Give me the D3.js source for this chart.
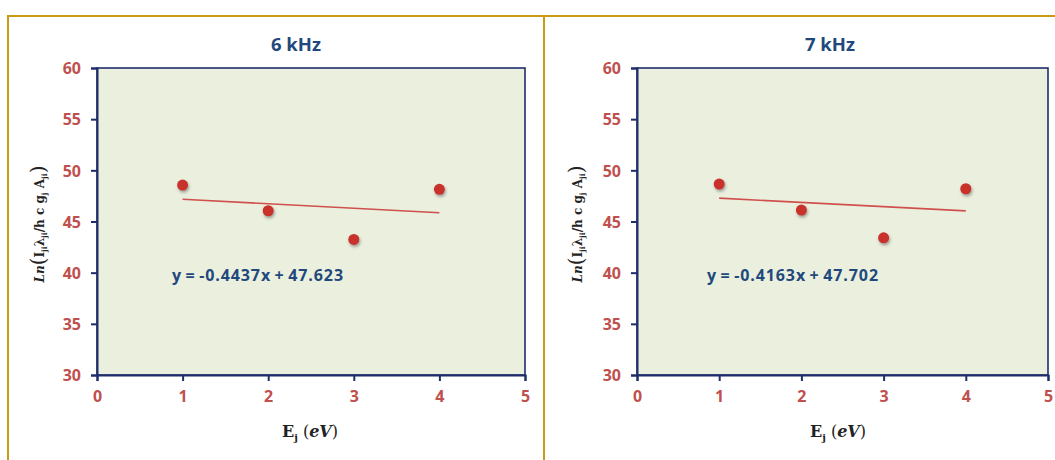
<!DOCTYPE html>
<html>
<head>
<meta charset="utf-8">
<script src="https://cdn.jsdelivr.net/npm/d3@7/dist/d3.min.js"></script>
<style>
  html, body { margin: 0; padding: 0; background: #ffffff; }
  svg { display: block; }
</style>
</head>
<body>
<svg id="chart" width="1055" height="460"></svg>
<script>
// ---- data ----
const xTickValues = [0, 1, 2, 3, 4, 5];
const yTickValues = [30, 35, 40, 45, 50, 55, 60];
const energies = [1, 2, 3, 4];
const lnValues6k = [48.56, 46.05, 43.25, 48.14];
const lnValues7k = [48.66, 46.12, 43.41, 48.20];
const titles = ["6 kHz", "7 kHz"];
const slopes = [-0.4437, -0.4163];
const intercepts = [47.623, 47.702];
const equations = ["y = -0.4437x + 47.623", "y = -0.4163x + 47.702"];

const svg = d3.select("#chart");

// drop shadow filter for markers
const defs = svg.append("defs");
const f = defs.append("filter").attr("id", "shadow").attr("x", "-50%").attr("y", "-50%").attr("width", "200%").attr("height", "200%");
f.append("feDropShadow").attr("dx", 1).attr("dy", 2).attr("stdDeviation", 1.5).attr("flood-color", "#555").attr("flood-opacity", 0.55);

// gold frame
const gold = "#c89b14";
svg.append("line").attr("x1", 8).attr("x2", 1055).attr("y1", 16).attr("y2", 16).attr("stroke", gold).attr("stroke-width", 2);
svg.append("line").attr("x1", 8).attr("x2", 8).attr("y1", 15).attr("y2", 460).attr("stroke", gold).attr("stroke-width", 2);
svg.append("line").attr("x1", 544).attr("x2", 544).attr("y1", 15).attr("y2", 460).attr("stroke", gold).attr("stroke-width", 2);

const panels = [
  { x0: 97, x1: 525, values: lnValues6k, titleX: 296, eqX: 172, yLabX: 40, xLabX: 310 },
  { x0: 637, x1: 1048, values: lnValues7k, titleX: 830, eqX: 707, yLabX: 578, xLabX: 838 }
];
const yTop = 68, yBot = 375;
const navy = "#1f2d6b";
const red = "#c0504d";
const blue = "#1f497d";

panels.forEach((p, i) => {
  const x = d3.scaleLinear().domain([0, 5]).range([p.x0, p.x1]);
  const y = d3.scaleLinear().domain([30, 60]).range([yBot, yTop]);
  const g = svg.append("g");

  // plot background
  g.append("rect").attr("x", x(0)).attr("y", y(60)).attr("width", x(5) - x(0)).attr("height", y(30) - y(60))
    .attr("fill", "#ebf0de").attr("stroke", navy).attr("stroke-width", 1.6);

  // axes
  const yAxis = d3.axisLeft(y).tickValues(yTickValues).tickFormat(d3.format("d")).tickSize(6).tickPadding(10);
  const yg = g.append("g").attr("transform", `translate(${x(0)},0)`).call(yAxis);
  const xAxis = d3.axisBottom(x).tickValues(xTickValues).tickFormat(d3.format("d")).tickSize(6).tickPadding(10);
  const xg = g.append("g").attr("transform", `translate(0,${y(30)})`).call(xAxis);
  [yg, xg].forEach(ax => {
    ax.select(".domain").attr("stroke", navy).attr("stroke-width", 2);
    ax.selectAll(".tick line").attr("stroke", navy).attr("stroke-width", 2);
    ax.selectAll(".tick text").attr("fill", red).attr("font-family", "'Open Sans', sans-serif")
      .attr("font-weight", "bold").attr("font-size", 16);
  });
  yg.selectAll(".tick text").attr("dy", "0.36em");

  // title
  g.append("text").attr("x", p.titleX).attr("y", 51).attr("text-anchor", "middle")
    .attr("fill", blue).attr("font-family", "'Open Sans', sans-serif").attr("font-weight", "bold")
    .attr("font-size", 18.5).text(titles[i]);

  // trendline
  g.append("line")
    .attr("x1", x(energies[0])).attr("y1", y(slopes[i] * energies[0] + intercepts[i]))
    .attr("x2", x(energies[energies.length - 1])).attr("y2", y(slopes[i] * energies[energies.length - 1] + intercepts[i]))
    .attr("stroke", "#d0504d").attr("stroke-width", 1.6);

  // points
  g.selectAll("circle.pt").data(energies.map((e, k) => [e, p.values[k]])).enter().append("circle")
    .attr("class", "pt").attr("cx", d => x(d[0])).attr("cy", d => y(d[1])).attr("r", 5.5)
    .attr("fill", "#c8302c").attr("filter", "url(#shadow)");

  // equation
  g.append("text").attr("x", p.eqX).attr("y", 281).attr("fill", blue)
    .attr("font-family", "'Open Sans', sans-serif").attr("font-weight", "bold").attr("font-size", 16)
    .attr("letter-spacing", 0.9).attr("word-spacing", -1.5)
    .text(equations[i]);

  // x axis label: E_j (eV)
  const xl = g.append("text").attr("x", p.xLabX).attr("y", 437).attr("text-anchor", "middle")
    .attr("fill", "#222").attr("font-family", "'DejaVu Serif', serif").attr("font-size", 16);
  xl.append("tspan").attr("font-weight", "bold").text("E");
  xl.append("tspan").attr("font-size", 10).attr("dy", 4).attr("font-weight", "bold").text("j");
  xl.append("tspan").attr("dy", -4).text(" (");
  xl.append("tspan").attr("font-style", "italic").attr("font-weight", "bold").text("eV");
  xl.append("tspan").text(")");

  // y axis label: Ln(I_ji λ_ji /h c g_j A_ji)
  const yl = g.append("text").attr("transform", `translate(${p.yLabX},224) rotate(-90)`)
    .attr("text-anchor", "middle").attr("fill", "#222").attr("font-family", "'DejaVu Serif', serif")
    .attr("font-weight", "bold").attr("font-size", 12).attr("dy", "0.35em");
  yl.append("tspan").attr("font-style", "italic").text("Ln");
  yl.append("tspan").attr("font-size", 20).attr("font-weight", "normal").attr("dy", 1).text("(");
  yl.append("tspan").attr("dy", -1).text("I");
  yl.append("tspan").attr("font-size", 7.5).attr("dy", 3).text("ji");
  yl.append("tspan").attr("dy", -3).text("λ");
  yl.append("tspan").attr("font-size", 7.5).attr("dy", 3).text("ji");
  yl.append("tspan").attr("dy", -3).text("/h c g");
  yl.append("tspan").attr("font-size", 7.5).attr("dy", 3).text("j");
  yl.append("tspan").attr("dy", -3).text(" A");
  yl.append("tspan").attr("font-size", 7.5).attr("dy", 3).text("ji");
  yl.append("tspan").attr("font-size", 20).attr("font-weight", "normal").attr("dy", -2).text(")");
});
</script>
</body>
</html>
